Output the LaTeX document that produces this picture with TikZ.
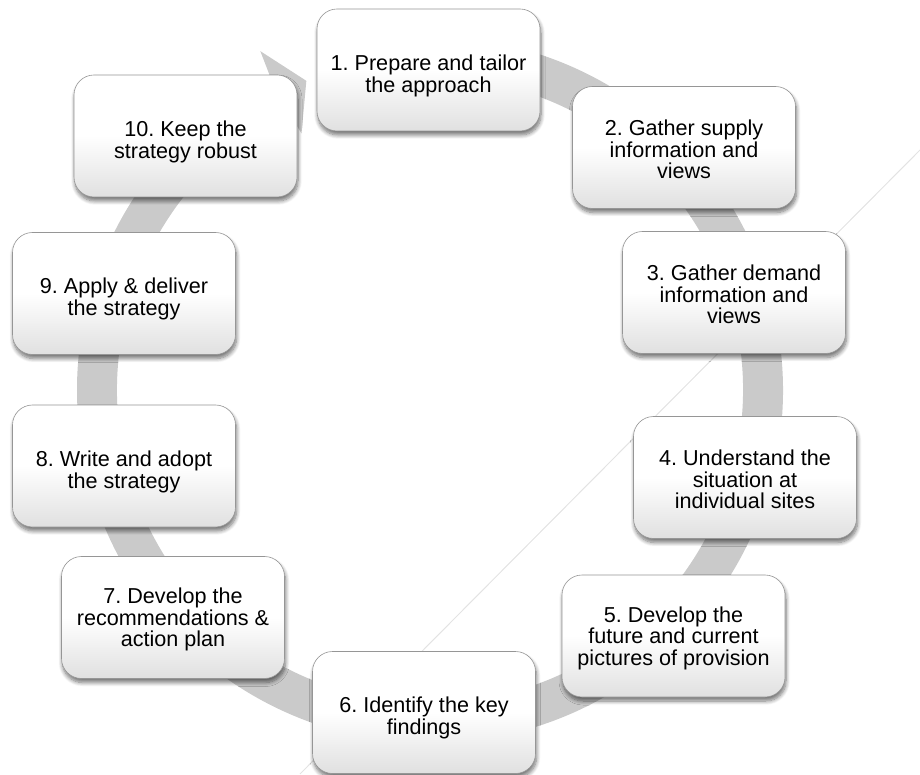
\documentclass[tikz,border=0pt]{standalone}
\usepackage{fontspec}
\setmainfont{Liberation Sans}
\usetikzlibrary{shadows.blur}
\definecolor{ringgray}{RGB}{202,202,202}
\definecolor{boxline}{RGB}{150,150,150}
\definecolor{boxbottom}{RGB}{224,224,224}
\newcommand\twoup{\rule{0pt}{27pt}}
\newcommand\threeup{\rule{0pt}{20pt}}
\begin{document}
\begin{tikzpicture}[x=1pt,y=1pt,
  stepbox/.style={rectangle, rounded corners=20pt, draw=boxline, line width=0.6pt,
    top color=white, bottom color=boxbottom, middle color=white,
    minimum width=223pt, minimum height=122pt, align=center, inner sep=4pt,
    font=\fontsize{21.6}{21.6}\selectfont\frenchspacing,
    blur shadow={shadow xshift=1pt, shadow yshift=-4pt, shadow blur steps=8, shadow blur radius=4pt, shadow opacity=55}},
]
\useasboundingbox (0,0) rectangle (920,774);
% faint diagonal line
\coordinate (lA) at (300,0);
\coordinate (lB) at (920,624);
\draw[gray!22, line width=1pt] (lA) -- (lB);
% ring arrow
\begin{scope}[shift={(430,384)}]
\fill[ringgray] (95:353) arc[start angle=95, end angle=-243, radius=353]
  -- (-243.4:379) -- (-248.2:333) -- (-243.4:287) -- (-243:313)
  arc[start angle=-243, end angle=95, radius=313] -- cycle;
\end{scope}
% boxes
\node[stepbox] (s1) at (428.5,704) {\twoup 1. Prepare and tailor\\the approach};
\node[stepbox] (s2) at (684,626.5) {\threeup 2. Gather supply\\information and\\views};
\node[stepbox] (s3) at (734,481.5) {\threeup 3. Gather demand\\information and\\views};
\node[stepbox] (s4) at (745,296.5) {\threeup 4. Understand the\\situation at\\individual sites};
\node[stepbox] (s5) at (673.5,138) {\threeup 5. Develop the\\future and current\\pictures of provision};
\node[stepbox] (s6) at (424,61.5) {\twoup 6. Identify the key\\findings};
\node[stepbox] (s7) at (173,156.5) {\threeup 7. Develop the\\recommendations \&\\action plan};
\node[stepbox] (s8) at (124,308) {\twoup 8. Write and adopt\\the strategy};
\node[stepbox] (s9) at (124,480.5) {\twoup 9. Apply \& deliver\\the strategy};
\node[stepbox] (s10) at (185.5,638) {\twoup 10. Keep the\\strategy robust};
\end{tikzpicture}
\end{document}
